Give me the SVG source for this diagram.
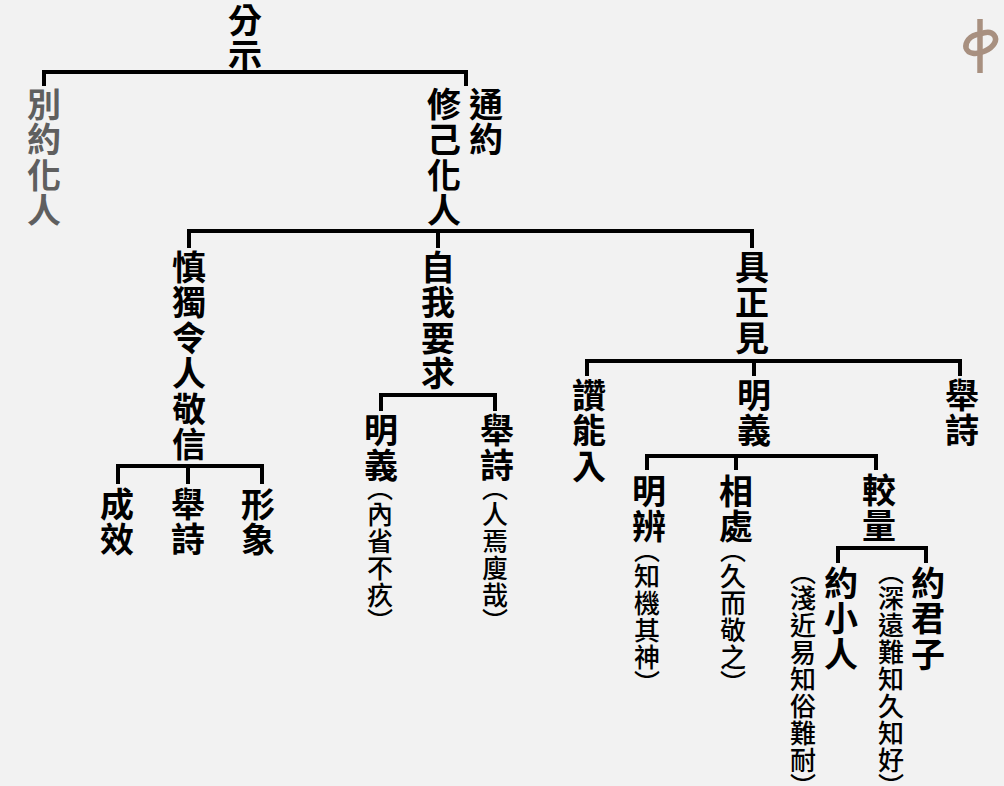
<svg xmlns="http://www.w3.org/2000/svg" width="1004" height="786" viewBox="0 0 1004 786">
<style>
text{font-family:"Noto Sans CJK TC","Noto Sans CJK JP",sans-serif;font-weight:700;fill:#000;writing-mode:vertical-rl;text-orientation:upright}
.b{font-size:34px;letter-spacing:1.4px}
.s{font-size:26px;font-weight:500;letter-spacing:1px;font-feature-settings:"vpal"}
.g{fill:#5f5f5f}
.c{fill:none;stroke:#000;stroke-width:4}
</style>
<rect width="1004" height="786" fill="#f2f2f2"/>
<g id="connectors" class="c">
<path d="M44 86V72H466V86"/>
<path d="M189 248V231H752V248M438 231V248"/>
<path d="M587 376V361H960V376M754 361V376"/>
<path d="M381 411V395H495V411"/>
<path d="M118 484V466H262V484M188 466V484"/>
<path d="M647 470V456H876V470M736 456V470"/>
<path d="M838 563V548H926V563"/>
</g>
<g id="logo" fill="none" stroke="#a89080">
<path d="M980 19V73" stroke-width="5.5"/>
<path d="M980 34C969 35 965 43 966 48C968 54 976 55 985 51C994 47 998 40 994 35C991 31 985 32 980 34" stroke-width="5.5"/>
</g>
<g id="n-fenshi"><text class="b" x="245" y="3">分示</text></g>
<g id="n-bieyue"><text class="b g" x="44" y="87">別約化人</text></g>
<g id="n-xiuji"><text class="b" x="444" y="87">修己化人</text></g>
<g id="n-tongyue"><text class="b" x="486" y="87">通約</text></g>
<g id="n-shendu"><text class="b" x="189" y="250">慎獨令人敬信</text></g>
<g id="n-ziwo"><text class="b" x="438" y="250">自我要求</text></g>
<g id="n-juzheng"><text class="b" x="752" y="250">具正見</text></g>
<g id="n-zanneng"><text class="b" x="589" y="378">讚能入</text></g>
<g id="n-mingyi"><text class="b" x="754" y="378">明義</text></g>
<g id="n-jushi"><text class="b" x="962" y="378">舉詩</text></g>
<g id="n-chengxiao"><text class="b" x="117" y="487">成效</text></g>
<g id="n-jushi2"><text class="b" x="188" y="487">舉詩</text></g>
<g id="n-xingxiang"><text class="b" x="258" y="487">形象</text></g>
<g id="n-mingyi2"><text class="b" x="381" y="413">明義</text><text class="s" x="380" y="487">（內省不疚）</text></g>
<g id="n-jushi3"><text class="b" x="497" y="413">舉詩</text><text class="s" x="495" y="487">（人焉廋哉）</text></g>
<g id="n-mingbian"><text class="b" x="649" y="474">明辨</text><text class="s" x="647" y="549">（知機其神）</text></g>
<g id="n-xiangchu"><text class="b" x="736" y="474">相處</text><text class="s" x="733" y="549">（久而敬之）</text></g>
<g id="n-jiaoliang"><text class="b" x="879" y="473">較量</text></g>
<g id="n-xiaoren"><text class="b" x="841" y="566">約小人</text><text class="s" x="803" y="571">（淺近易知俗難耐）</text></g>
<g id="n-junzi"><text class="b" x="928" y="566">約君子</text><text class="s" x="891" y="571">（深遠難知久知好）</text></g>
</svg>
